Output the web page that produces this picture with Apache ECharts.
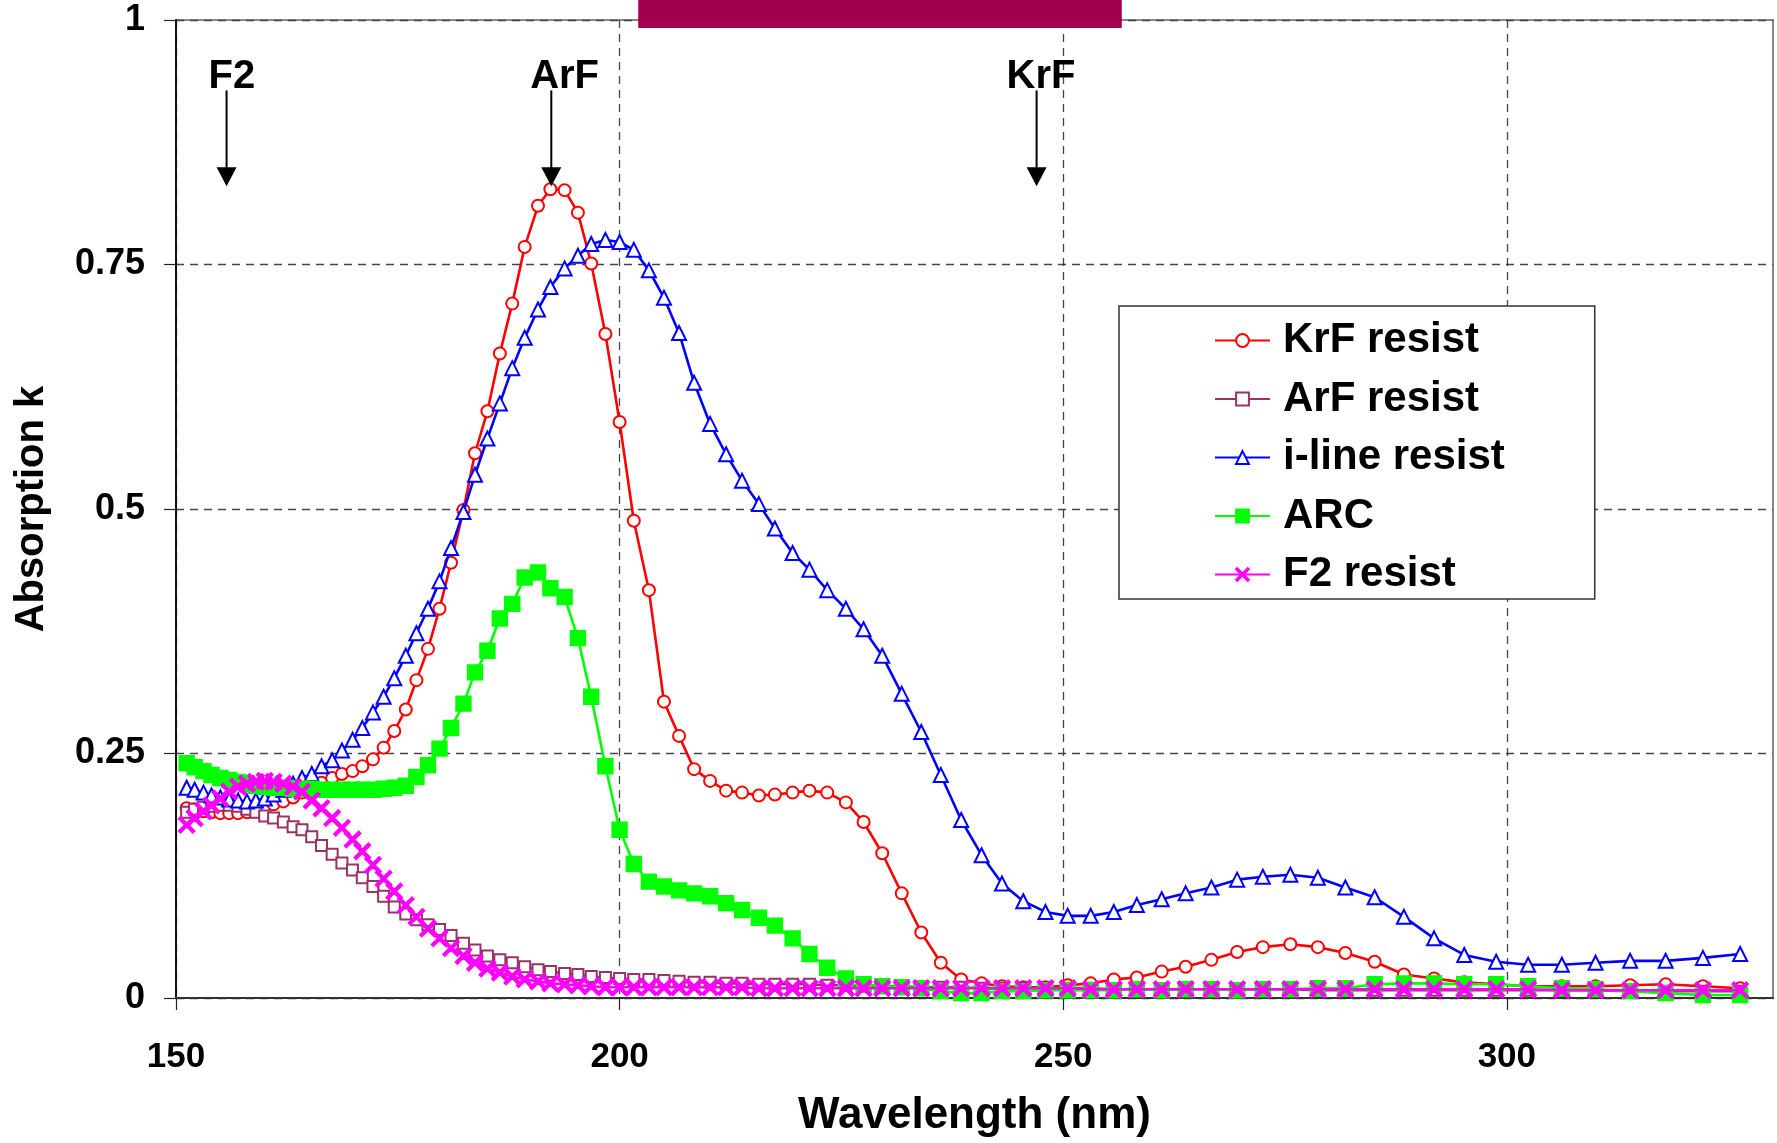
<!DOCTYPE html>
<html>
<head>
<meta charset="utf-8">
<script src="https://cdn.jsdelivr.net/npm/echarts@6/dist/echarts.min.js"></script>
<style>
  html, body { margin: 0; padding: 0; background: #fff; }
  #chart { width: 1777px; height: 1143px; }
</style>
</head>
<body>
<div id="chart"></div>
<script>
// Wavelength grid (nm) shared by all measured spectra
const wavelength = [
  151.2, 152.1, 153.1, 154.0, 155.0, 156.0, 157.0, 158.0, 159.0, 160.0,
  161.0, 162.1, 163.2, 164.2, 165.3, 166.4, 167.6, 168.7, 169.9, 171.0,
  172.2, 173.4, 174.6, 175.9, 177.1, 178.4, 179.7, 181.0, 182.4, 183.7,
  185.1, 186.5, 187.9, 189.3, 190.8, 192.2, 193.8, 195.3, 196.8, 198.4,
  200.0, 201.6, 203.3, 205.0, 206.7, 208.4, 210.2, 212.0, 213.8, 215.7,
  217.5, 219.5, 221.4, 223.4, 225.5, 227.5, 229.6, 231.8, 234.0, 236.2,
  238.5, 240.8, 243.1, 245.5, 248.0, 250.5, 253.1, 255.7, 258.3, 261.1,
  263.8, 266.7, 269.6, 272.5, 275.6, 278.7, 281.8, 285.1, 288.4, 291.8,
  295.2, 298.8, 302.4, 306.2, 310.0, 313.9, 317.9, 322.1, 326.3
];

// Absorption k of each film
const krfResist = [
  0.194, 0.193, 0.191, 0.190, 0.189, 0.189, 0.189, 0.190, 0.192, 0.195,
  0.198, 0.201, 0.205, 0.210, 0.215, 0.220, 0.225, 0.229, 0.232, 0.237,
  0.244, 0.256, 0.273, 0.295, 0.325, 0.357, 0.398, 0.445, 0.499, 0.557,
  0.600, 0.659, 0.710, 0.768, 0.810, 0.827, 0.826, 0.803, 0.751, 0.679,
  0.589, 0.488, 0.417, 0.303, 0.268, 0.234, 0.222, 0.212, 0.210, 0.207,
  0.208, 0.210, 0.212, 0.210, 0.200, 0.180, 0.148, 0.107, 0.067, 0.036,
  0.019, 0.015, 0.012, 0.011, 0.011, 0.013, 0.015, 0.019, 0.021, 0.027,
  0.032, 0.039, 0.047, 0.052, 0.055, 0.052, 0.046, 0.037, 0.024, 0.020,
  0.016, 0.014, 0.012, 0.012, 0.012, 0.013, 0.014, 0.012, 0.010
];

const arfResist = [
  0.190, 0.193, 0.195, 0.196, 0.197, 0.197, 0.196, 0.193, 0.190, 0.186,
  0.184, 0.180, 0.175, 0.172, 0.165, 0.156, 0.147, 0.138, 0.131, 0.123,
  0.114, 0.104, 0.093, 0.086, 0.080, 0.075, 0.070, 0.064, 0.056, 0.049,
  0.043, 0.039, 0.036, 0.032, 0.029, 0.027, 0.025, 0.024, 0.022, 0.021,
  0.020, 0.019, 0.019, 0.018, 0.017, 0.016, 0.016, 0.015, 0.015, 0.014,
  0.014, 0.014, 0.014, 0.013, 0.013, 0.012, 0.012, 0.012, 0.011, 0.011,
  0.011, 0.010, 0.010, 0.010, 0.010, 0.010, 0.010, 0.009, 0.009, 0.009,
  0.009, 0.009, 0.009, 0.009, 0.009, 0.008, 0.008, 0.008, 0.008, 0.008,
  0.008, 0.008, 0.008, 0.008, 0.008, 0.007, 0.007, 0.007, 0.007
];

const iLineResist = [
  0.215, 0.213, 0.210, 0.207, 0.205, 0.203, 0.202, 0.201, 0.202, 0.204,
  0.208, 0.213, 0.219, 0.225, 0.229, 0.237, 0.243, 0.253, 0.264, 0.276,
  0.292, 0.308, 0.327, 0.350, 0.373, 0.398, 0.426, 0.460, 0.497, 0.535,
  0.572, 0.608, 0.644, 0.675, 0.704, 0.727, 0.746, 0.759, 0.771, 0.775,
  0.773, 0.765, 0.744, 0.716, 0.680, 0.629, 0.587, 0.556, 0.529, 0.505,
  0.480, 0.455, 0.438, 0.417, 0.398, 0.377, 0.350, 0.311, 0.272, 0.228,
  0.182, 0.146, 0.117, 0.099, 0.088, 0.084, 0.084, 0.088, 0.095, 0.101,
  0.107, 0.113, 0.121, 0.124, 0.126, 0.123, 0.113, 0.103, 0.083, 0.061,
  0.044, 0.037, 0.034, 0.034, 0.036, 0.038, 0.038, 0.041, 0.045
];

const arcFilm = [
  0.240, 0.236, 0.232, 0.228, 0.225, 0.223, 0.221, 0.219, 0.217, 0.216,
  0.215, 0.215, 0.214, 0.214, 0.214, 0.213, 0.213, 0.213, 0.213, 0.213,
  0.213, 0.214, 0.215, 0.217, 0.226, 0.238, 0.255, 0.276, 0.301, 0.333,
  0.355, 0.388, 0.403, 0.430, 0.435, 0.419, 0.410, 0.368, 0.308, 0.237,
  0.172, 0.137, 0.119, 0.114, 0.110, 0.107, 0.104, 0.097, 0.090, 0.082,
  0.074, 0.061, 0.045, 0.031, 0.020, 0.014, 0.012, 0.011, 0.010, 0.007,
  0.005, 0.005, 0.007, 0.007, 0.008, 0.008, 0.008, 0.008, 0.009, 0.008,
  0.009, 0.009, 0.008, 0.009, 0.009, 0.010, 0.010, 0.014, 0.015, 0.015,
  0.014, 0.014, 0.012, 0.010, 0.009, 0.007, 0.005, 0.003, 0.003
];

const f2Resist = [
  0.177, 0.184, 0.191, 0.197, 0.204, 0.211, 0.216, 0.219, 0.221, 0.222,
  0.221, 0.219, 0.216, 0.211, 0.202, 0.194, 0.184, 0.174, 0.162, 0.150,
  0.136, 0.122, 0.109, 0.095, 0.083, 0.071, 0.061, 0.051, 0.043, 0.036,
  0.030, 0.026, 0.022, 0.019, 0.017, 0.015, 0.014, 0.013, 0.012, 0.011,
  0.011, 0.011, 0.011, 0.011, 0.011, 0.011, 0.011, 0.011, 0.011, 0.010,
  0.010, 0.010, 0.010, 0.010, 0.010, 0.010, 0.010, 0.010, 0.010, 0.010,
  0.010, 0.010, 0.010, 0.010, 0.010, 0.010, 0.009, 0.009, 0.009, 0.009,
  0.009, 0.009, 0.009, 0.009, 0.009, 0.009, 0.009, 0.009, 0.009, 0.009,
  0.009, 0.009, 0.009, 0.008, 0.008, 0.008, 0.008, 0.008, 0.008
];

const seriesNames = ['KrF resist', 'ArF resist', 'i-line resist', 'ARC', 'F2 resist'];
const xTickValues = [150, 200, 250, 300];

// Exposure wavelength markers drawn above the curves
const laserNames = ['F2', 'ArF', 'KrF'];
const laserArrowX = [155.7, 192.3, 247.0];
const laserLabelX = [156.3, 193.8, 247.5];

const FONT = '"Liberation Sans", Arial, Helvetica, sans-serif';
const crossPath = 'path://M0,0.9 L0.9,0 L5,4.1 L9.1,0 L10,0.9 L5.9,5 L10,9.1 L9.1,10 L5,5.9 L0.9,10 L0,9.1 L4.1,5 Z';

function pairs(values) {
  return wavelength.map((w, i) => [w, values[i]]);
}

const styles = [
  { color: '#FF0000', symbol: 'emptyCircle', size: 12 },
  { color: '#993366', symbol: 'emptyRect', size: 11 },
  { color: '#0000FF', symbol: 'emptyTriangle', size: 14 },
  { color: '#00FF00', symbol: 'rect', size: 14 },
  { color: '#FF00FF', symbol: crossPath, size: 15 }
];
const dataSets = [krfResist, arfResist, iLineResist, arcFilm, f2Resist];

const chart = echarts.init(document.getElementById('chart'), null, { renderer: 'canvas' });

const option = {
  animation: false,
  backgroundColor: '#fff',
  textStyle: { fontFamily: FONT },
  grid: {
    left: 176, right: 4, top: 20, bottom: 143,
    show: true, borderColor: '#888', borderWidth: 2, backgroundColor: '#fff'
  },
  xAxis: {
    type: 'value', min: 150, max: 330, interval: 50,
    name: 'Wavelength (nm)', nameLocation: 'middle', nameGap: 96,
    nameTextStyle: { fontSize: 44, fontWeight: 'bold', color: '#000', fontFamily: FONT },
    axisLine: { show: true, onZero: false, lineStyle: { color: '#333', width: 2 } },
    axisTick: { show: true, length: 12, inside: false, customValues: xTickValues, lineStyle: { color: '#222', width: 1.2 } },
    axisLabel: { customValues: xTickValues, margin: 42, fontSize: 35, fontWeight: 'bold', color: '#000', fontFamily: FONT },
    splitLine: { show: true, lineStyle: { color: '#444', width: 1.3, type: [8, 6] } }
  },
  yAxis: {
    type: 'value', min: 0, max: 1, interval: 0.25,
    name: 'Absorption k', nameLocation: 'middle', nameGap: 124,
    nameTextStyle: { fontSize: 40, fontWeight: 'bold', color: '#000', fontFamily: FONT },
    axisLine: { show: true, lineStyle: { color: '#111', width: 2 } },
    axisTick: { show: true, length: 12, inside: false, lineStyle: { color: '#222', width: 1.2 } },
    axisLabel: { margin: 31, fontSize: 36, fontWeight: 'bold', color: '#000', fontFamily: FONT },
    splitLine: { show: true, lineStyle: { color: '#444', width: 1.3, type: [8, 6] } }
  },
  legend: {
    orient: 'vertical',
    left: 1119, top: 306,
    padding: [13.5, 90, 3.5, 95],
    itemGap: 16.5,
    itemWidth: 55, itemHeight: 16,
    backgroundColor: '#fff',
    borderColor: '#333', borderWidth: 1.5,
    data: seriesNames,
    textStyle: { fontSize: 42, lineHeight: 42, fontWeight: 'bold', color: '#000', fontFamily: FONT, padding: [0, 0, 0, 8] }
  },
  series: seriesNames.map((name, k) => ({
    name,
    type: 'line',
    data: pairs(dataSets[k]),
    symbol: styles[k].symbol,
    symbolSize: styles[k].size,
    showAllSymbol: true,
    smooth: false,
    z: 2 + k,
    lineStyle: { color: styles[k].color, width: 2.6 },
    itemStyle: { color: styles[k].color, borderColor: styles[k].color, borderWidth: 2.4 },
    emphasis: { disabled: true }
  }))
};

chart.setOption(option);

// Annotations: laser labels with downward arrows, and the band across the top edge
function drawAnnotations() {
  const gfx = [];
  const labelY = chart.convertToPixel({ gridIndex: 0 }, [150, 0.942])[1];
  const topY = chart.convertToPixel({ gridIndex: 0 }, [150, 0.928])[1];
  const tipY = chart.convertToPixel({ gridIndex: 0 }, [150, 0.830])[1];
  laserNames.forEach((name, i) => {
    const ax = chart.convertToPixel({ gridIndex: 0 }, [laserArrowX[i], 0])[0];
    const lx = chart.convertToPixel({ gridIndex: 0 }, [laserLabelX[i], 0])[0];
    gfx.push({
      type: 'text', z: 20,
      style: { text: name, x: lx, y: labelY, align: 'center', verticalAlign: 'middle',
               font: 'bold 40px ' + FONT, fill: '#000' }
    });
    gfx.push({
      type: 'line', z: 20,
      shape: { x1: ax, y1: topY, x2: ax, y2: tipY - 12 },
      style: { stroke: '#000', lineWidth: 2 }
    });
    gfx.push({
      type: 'polygon', z: 20,
      shape: { points: [[ax - 10, tipY - 19], [ax + 10, tipY - 19], [ax, tipY]] },
      style: { fill: '#000' }
    });
  });
  const bx0 = chart.convertToPixel({ gridIndex: 0 }, [202.1, 1])[0];
  const bx1 = chart.convertToPixel({ gridIndex: 0 }, [256.6, 1])[0];
  const by = chart.convertToPixel({ gridIndex: 0 }, [202.1, 1])[1];
  gfx.push({
    type: 'rect', z: 30,
    shape: { x: bx0, y: 0, width: bx1 - bx0, height: by + 8 },
    style: { fill: '#A0004F' }
  });
  chart.setOption({ graphic: gfx });
}
drawAnnotations();
</script>
</body>
</html>
